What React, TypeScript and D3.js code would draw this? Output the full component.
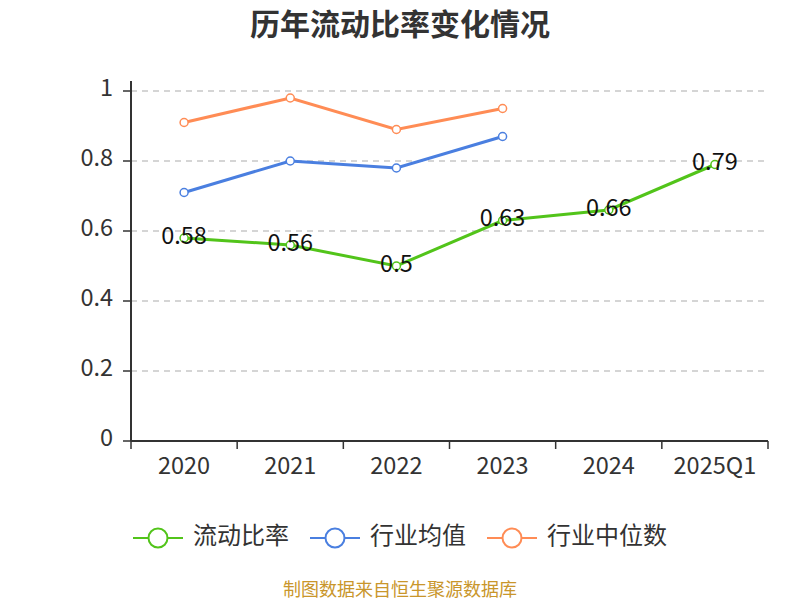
import React from "react";
import * as d3 from "d3";

const categories = ["2020", "2021", "2022", "2023", "2024", "2025Q1"];
const currentRatio = [0.58, 0.56, 0.5, 0.63, 0.66, 0.79];
const industryAvg = [0.71, 0.8, 0.78, 0.87];
const industryMedian = [0.91, 0.98, 0.89, 0.95];
const yTicks = [0, 0.2, 0.4, 0.6, 0.8, 1];
const seriesNames = ["流动比率", "行业均值", "行业中位数"];
const colors = ["#52c41a", "#4a7fe0", "#ff8c55"];

const FONT = "'Noto Sans CJK SC', 'Noto Sans', sans-serif";

export default function App() {
  const W = 800, H = 600;
  const left = 131, right = 768, top = 91, bottom = 441;
  const x = d3.scaleBand<string>().domain(categories).range([left, right]);
  const y = d3.scaleLinear().domain([0, 1]).range([bottom, top]);
  const cx = (c: string) => (x(c) as number) + x.bandwidth() / 2;
  const line = d3.line<[string, number]>().x((d) => cx(d[0])).y((d) => y(d[1]));

  const series = [currentRatio, industryAvg, industryMedian].map((vals) =>
    vals.map((v, i) => [categories[i], v] as [string, number])
  );

  const legendX = [133, 310, 487];

  return (
    <svg width={W} height={H} style={{ display: "block", position: "absolute", left: 0, top: 0 }} fontFamily={FONT}>
      <rect width={W} height={H} fill="#fff" />
      <text x={400} y={35} textAnchor="middle" fontSize={30} fontWeight="bold" fill="#333">
        历年流动比率变化情况
      </text>
      {yTicks.map((t) => (
        <g key={t}>
          {t > 0 && (
            <line x1={left} x2={right} y1={y(t)} y2={y(t)} stroke="#c8c8c8" strokeWidth={1.5} strokeDasharray="6,5" />
          )}
          <line x1={left - 8} x2={left} y1={y(t)} y2={y(t)} stroke="#333" strokeWidth={1.5} />
          <text x={113} y={y(t) + 5} textAnchor="end" fontSize={23.5} fill="#333">
            {t}
          </text>
        </g>
      ))}
      <line x1={left} x2={left} y1={top - 10} y2={bottom} stroke="#333" strokeWidth={2} />
      <line x1={left} x2={right} y1={bottom} y2={bottom} stroke="#333" strokeWidth={2} />
      {categories.map((c, i) => (
        <g key={c}>
          <line x1={x(c) as number} x2={x(c) as number} y1={bottom} y2={bottom + 8} stroke="#333" strokeWidth={1.5} />
          {i === categories.length - 1 && (
            <line x1={right} x2={right} y1={bottom} y2={bottom + 8} stroke="#333" strokeWidth={1.5} />
          )}
          <text x={cx(c)} y={474} textAnchor="middle" fontSize={23.5} fill="#333">
            {c}
          </text>
        </g>
      ))}
      {series.map((s, si) => (
        <g key={si}>
          <path d={line(s) as string} fill="none" stroke={colors[si]} strokeWidth={3} />
          {s.map((d) => (
            <circle key={d[0]} cx={cx(d[0])} cy={y(d[1])} r={4} fill="#fff" stroke={colors[si]} strokeWidth={1.5} />
          ))}
        </g>
      ))}
      {series[0].map((d) => (
        <text key={d[0]} x={cx(d[0])} y={y(d[1]) + 5.5} textAnchor="middle" fontSize={23.5} fill="#111">
          {d[1]}
        </text>
      ))}
      {seriesNames.map((n, i) => (
        <g key={n}>
          <line x1={legendX[i]} x2={legendX[i] + 50} y1={538} y2={538} stroke={colors[i]} strokeWidth={2} />
          <circle cx={legendX[i] + 25} cy={538} r={9.5} fill="#fff" stroke={colors[i]} strokeWidth={2} />
          <text x={legendX[i] + 60} y={544} fontSize={24} fill="#333">
            {n}
          </text>
        </g>
      ))}
      <text x={400} y={596} textAnchor="middle" fontSize={18} fill="#c9962b">
        制图数据来自恒生聚源数据库
      </text>
    </svg>
  );
}
